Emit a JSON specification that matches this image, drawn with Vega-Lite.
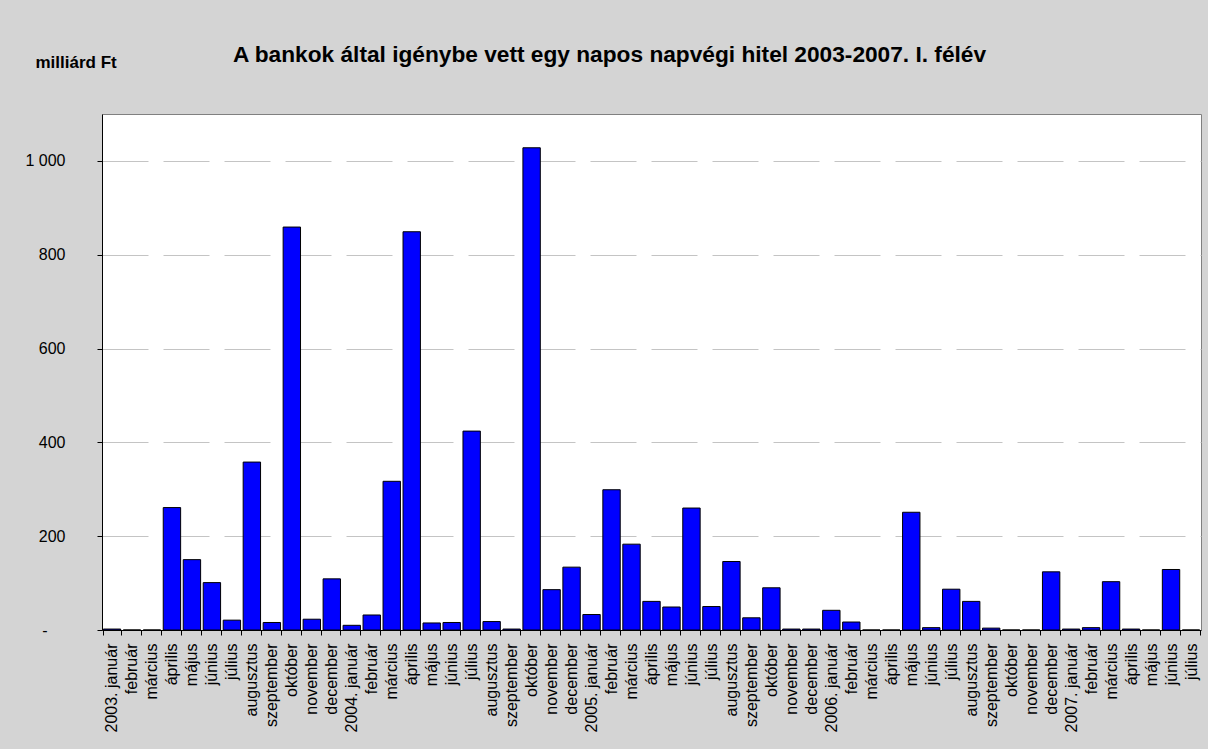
{
  "$schema": "https://vega.github.io/schema/vega-lite/v6.json",
  "autosize": "none",
  "width": 1099,
  "height": 516,
  "padding": {"left": 102, "top": 114, "right": 7, "bottom": 119},
  "background": "#d4d4d4",
  "title": {
    "text": "A bankok által igénybe vett egy napos napvégi hitel 2003-2007. I. félév",
    "font": "Liberation Sans",
    "fontSize": 22.7,
    "fontWeight": "bold",
    "color": "#000000",
    "anchor": "middle",
    "dx": -42,
    "baseline": "alphabetic",
    "offset": -32
  },
  "config": {
    "view": {"fill": "#ffffff", "stroke": "#808080", "strokeWidth": 1},
    "axis": {"labelFont": "Liberation Sans", "titleFont": "Liberation Sans", "labelColor": "#000000", "titleColor": "#000000"}
  },
  "data": {
    "values": [
      {"honap": "2003-01", "ertek": 2},
      {"honap": "2003-02", "ertek": 0},
      {"honap": "2003-03", "ertek": 0},
      {"honap": "2003-04", "ertek": 261},
      {"honap": "2003-05", "ertek": 150},
      {"honap": "2003-06", "ertek": 101},
      {"honap": "2003-07", "ertek": 21},
      {"honap": "2003-08", "ertek": 358},
      {"honap": "2003-09", "ertek": 16},
      {"honap": "2003-10", "ertek": 859},
      {"honap": "2003-11", "ertek": 23},
      {"honap": "2003-12", "ertek": 109},
      {"honap": "2004-01", "ertek": 10},
      {"honap": "2004-02", "ertek": 32},
      {"honap": "2004-03", "ertek": 317},
      {"honap": "2004-04", "ertek": 849},
      {"honap": "2004-05", "ertek": 15},
      {"honap": "2004-06", "ertek": 16},
      {"honap": "2004-07", "ertek": 424},
      {"honap": "2004-08", "ertek": 18},
      {"honap": "2004-09", "ertek": 2},
      {"honap": "2004-10", "ertek": 1028},
      {"honap": "2004-11", "ertek": 86},
      {"honap": "2004-12", "ertek": 134},
      {"honap": "2005-01", "ertek": 33},
      {"honap": "2005-02", "ertek": 299},
      {"honap": "2005-03", "ertek": 183},
      {"honap": "2005-04", "ertek": 61},
      {"honap": "2005-05", "ertek": 49},
      {"honap": "2005-06", "ertek": 260},
      {"honap": "2005-07", "ertek": 50},
      {"honap": "2005-08", "ertek": 146},
      {"honap": "2005-09", "ertek": 26},
      {"honap": "2005-10", "ertek": 90},
      {"honap": "2005-11", "ertek": 2},
      {"honap": "2005-12", "ertek": 2},
      {"honap": "2006-01", "ertek": 42},
      {"honap": "2006-02", "ertek": 17},
      {"honap": "2006-03", "ertek": 0},
      {"honap": "2006-04", "ertek": 0},
      {"honap": "2006-05", "ertek": 251},
      {"honap": "2006-06", "ertek": 5},
      {"honap": "2006-07", "ertek": 87},
      {"honap": "2006-08", "ertek": 61},
      {"honap": "2006-09", "ertek": 4},
      {"honap": "2006-10", "ertek": 0},
      {"honap": "2006-11", "ertek": 0},
      {"honap": "2006-12", "ertek": 124},
      {"honap": "2007-01", "ertek": 2},
      {"honap": "2007-02", "ertek": 5},
      {"honap": "2007-03", "ertek": 103},
      {"honap": "2007-04", "ertek": 2},
      {"honap": "2007-05", "ertek": 0},
      {"honap": "2007-06", "ertek": 129},
      {"honap": "2007-07", "ertek": 0}
    ]
  },
  "mark": {"type": "bar", "fill": "#0000ff", "stroke": "#000000", "strokeWidth": 1},
  "encoding": {
    "x": {
      "field": "honap",
      "type": "ordinal",
      "sort": null,
      "scale": {"paddingInner": 0.13, "paddingOuter": 0.065},
      "axis": {
        "title": null,
        "labelAngle": -90,
        "labelFontSize": 16,
        "labelPadding": 8,
        "tickSize": 5,
        "tickBand": "extent",
        "tickColor": "#000000",
        "domainColor": "#000000",
        "labelOverlap": false,
        "labelExpr": "!isString(datum.value) ? '' : (substring(datum.value,5,7)=='01' ? substring(datum.value,0,4)+'. ' : '') + ['január','február','március','április','május','június','július','augusztus','szeptember','október','november','december'][toNumber(substring(datum.value,5,7))-1]"
      }
    },
    "y": {
      "field": "ertek",
      "type": "quantitative",
      "scale": {"domain": [0, 1100], "nice": false},
      "axis": {
        "title": "milliárd Ft",
        "titleAngle": 0,
        "titleAlign": "left",
        "titleBaseline": "alphabetic",
        "titleX": -67,
        "titleY": -47,
        "titleFontSize": 17,
        "titleFontWeight": "bold",
        "values": [0, 200, 400, 600, 800, 1000],
        "labelFontSize": 16,
        "labelPadding": {"condition": {"test": "datum.value == 0", "value": 50}, "value": 32},
        "tickSize": 5,
        "tickColor": "#000000",
        "domainColor": "#000000",
        "grid": true,
        "gridColor": "#c4c4c4",
        "gridDash": [46, 15],
        "labelExpr": "datum.value == 0 ? '-' : replace(format(datum.value, ','), ',', ' ')"
      }
    }
  }
}
